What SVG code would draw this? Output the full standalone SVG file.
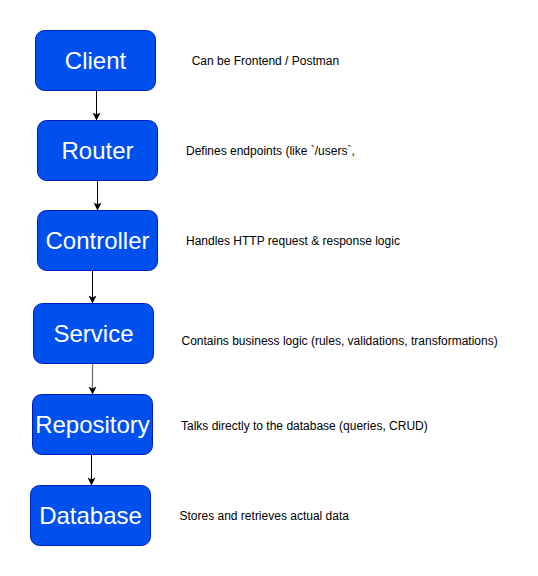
<svg xmlns="http://www.w3.org/2000/svg" width="538" height="576" viewBox="0 0 538 576">
<style>
.node rect{fill:#0050ef;stroke:#001dbc;stroke-width:1}
.node text{fill:#ffffff;font-family:"Liberation Sans",Arial,sans-serif;font-size:24px;text-anchor:middle}
.note{fill:#000000;font-family:"Liberation Sans",Arial,sans-serif;font-size:12px}
.edge{fill:none;stroke:#000000;stroke-width:1}
.edge.gray{stroke:#707070;stroke-width:1.3}
</style>
<defs>
<marker id="arrow" markerUnits="userSpaceOnUse" viewBox="0 0 8 8" refX="8" refY="4" markerWidth="8" markerHeight="8" orient="auto">
<path d="M0,0 L8,4 L0,8 L2,4 Z" fill="#000000"/>
</marker>
</defs>
<rect width="538" height="576" fill="#ffffff"/>
<g id="connectors">
<path class="edge" d="M96.5,90.5 L96.5,120.5" marker-end="url(#arrow)"/>
<path class="edge" d="M97.5,180.5 L97.5,210.5" marker-end="url(#arrow)"/>
<path class="edge" d="M92.5,270.5 L92.5,303.5" marker-end="url(#arrow)"/>
<path class="edge gray" d="M92.5,363.5 L92.5,394.5" marker-end="url(#arrow)"/>
<path class="edge" d="M91.5,454.5 L91.5,485.5" marker-end="url(#arrow)"/>
</g>
<g id="client" class="node">
<rect x="35.5" y="30.5" width="120" height="60" rx="9" ry="9"/>
<text x="95.5" y="69.1">Client</text>
</g>
<g id="router" class="node">
<rect x="37.5" y="120.5" width="120" height="60" rx="9" ry="9"/>
<text x="97.5" y="159.1">Router</text>
</g>
<g id="controller" class="node">
<rect x="37.5" y="210.5" width="120" height="60" rx="9" ry="9"/>
<text x="97.5" y="249.1">Controller</text>
</g>
<g id="service" class="node">
<rect x="33.5" y="303.5" width="120" height="60" rx="9" ry="9"/>
<text x="93.5" y="342.1">Service</text>
</g>
<g id="repository" class="node">
<rect x="32.5" y="394.5" width="120" height="60" rx="9" ry="9"/>
<text x="92.5" y="433.1">Repository</text>
</g>
<g id="database" class="node">
<rect x="30.5" y="485.5" width="120" height="60" rx="9" ry="9"/>
<text x="90.5" y="524.1">Database</text>
</g>
<g id="notes">
<text class="note" x="191.7" y="65">Can be Frontend / Postman</text>
<text class="note" x="186" y="155">Defines endpoints (like `/users`,</text>
<text class="note" x="186" y="244.5">Handles HTTP request &amp; response logic</text>
<text class="note" x="181.5" y="345">Contains business logic (rules, validations, transformations)</text>
<text class="note" x="181" y="430">Talks directly to the database (queries, CRUD)</text>
<text class="note" x="179.5" y="520">Stores and retrieves actual data</text>
</g>
</svg>
